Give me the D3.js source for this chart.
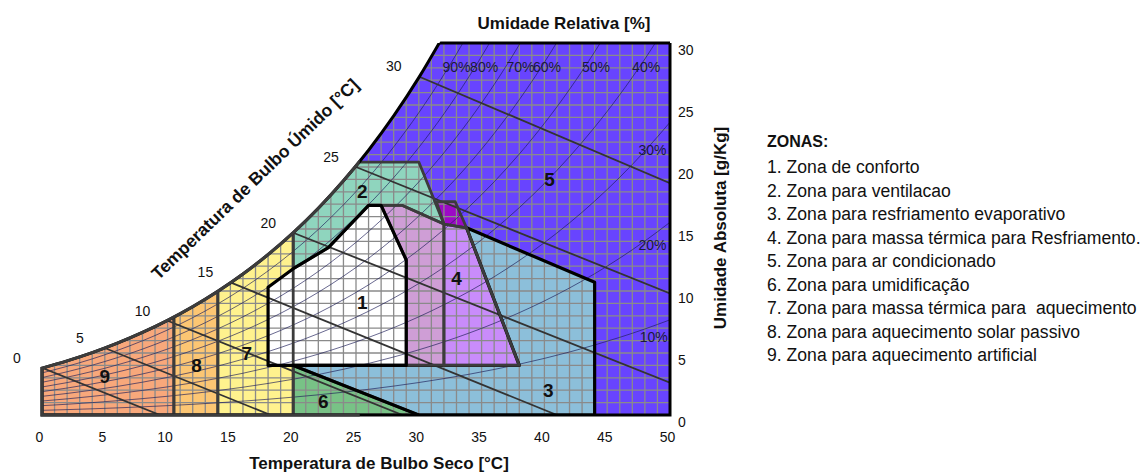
<!DOCTYPE html>
<html>
<head>
<meta charset="utf-8">
<script src="https://cdn.jsdelivr.net/npm/d3@7"></script>
<style>
  body { margin: 0; background: #fff; }
  svg text { font-family: "Liberation Sans", Arial, sans-serif; fill: #111; }
</style>
</head>
<body>
<div id="chart"></div>
<script>
// saturation vapour pressure table (kPa) -> 100% curve and RH curves
const satTemps = [0, 2, 4, 6, 8, 10, 12, 14, 16, 18, 20, 22, 24, 26, 28, 30, 32, 34, 36, 38, 40, 42, 44, 46, 48, 50];
const satPressure = [0.611, 0.706, 0.813, 0.935, 1.073, 1.228, 1.403, 1.599, 1.819, 2.065, 2.339, 2.645, 2.986,
                     3.363, 3.782, 4.246, 4.759, 5.324, 5.947, 6.632, 7.384, 8.209, 9.112, 10.099, 11.177, 12.352];
const rhLevels = [90, 80, 70, 60, 50, 40, 30, 20, 10];

// wet bulb lines [start on saturation, end]  (°C, g/kg)
const wetBulbTemps = [0, 5, 10, 15, 20, 25, 30];
const wetBulbLines = [
  [[0, 3.8], [9.4, 0]],
  [[5, 5.4], [18.2, 0]],
  [[10, 7.6], [28.7, 0]],
  [[15, 10.7], [41.0, 0]],
  [[20, 14.7], [50, 2.6]],
  [[25, 20.0], [50, 9.8]],
  [[30, 27.3], [50, 18.7]]
];

const xTicks = [0, 5, 10, 15, 20, 25, 30, 35, 40, 45, 50];
const yTicks = [0, 5, 10, 15, 20, 25, 30];

// zones (dry bulb °C, absolute humidity g/kg)
const zone1 = [[18, 4], [18, 10.3], [20, 11.8], [22.8, 13.5], [26, 16.9], [27, 16.9], [29, 12.5], [29, 4]];
const zone2 = [[20, 11.8], [20, 20.4], [30, 20.4], [32, 15.4], [28.7, 16.9], [26, 16.9], [22.8, 13.5]];
const zone3 = [[20, 4], [38, 4], [33.8, 15.1], [44, 10.7], [44, 0], [30, 0]];
const zone4a = [[27, 16.9], [28.7, 16.9], [32, 15.4], [32, 4], [29, 4], [29, 12.5]];
const zone4b = [[32, 15.4], [33.8, 15.1], [38, 4], [32, 4]];
const zone4c = [[31.4, 17.2], [32.9, 17.2], [33.8, 15.1], [32, 15.4]];
const zone6 = [[20, 4], [30, 0], [20, 0]];
const zone7 = [[14, 0], [14, 30], [20, 30], [20, 0]];
const zone8 = [[10.5, 0], [10.5, 30], [14, 30], [14, 0]];
const zone9 = [[0, 0], [0, 30], [10.5, 30], [10.5, 0]];

const zoneNumbers = ["1", "2", "3", "4", "5", "6", "7", "8", "9"];
const legendTitle = "ZONAS:";
const legendItems = [
  "1. Zona de conforto",
  "2. Zona para ventilacao",
  "3. Zona para resfriamento evaporativo",
  "4. Zona para massa térmica para Resfriamento.",
  "5. Zona para ar condicionado",
  "6. Zona para umidificação",
  "7. Zona para massa térmica para  aquecimento",
  "8. Zona para aquecimento solar passivo",
  "9. Zona para aquecimento artificial"
];

// layout only
const zoneLabelPos = [[25.5, 9.1], [25.5, 18.0], [40.3, 2.0], [33.0, 11.0], [40.4, 19.0], [22.4, 1.05], [16.3, 5.0], [12.3, 4.0], [5.0, 3.1]];
const rhLabelPos = [[33.0, 28.1], [35.2, 28.1], [38.1, 28.1], [40.2, 28.1], [44.1, 28.1], [48.1, 28.1], [48.6, 21.4], [48.6, 13.7], [48.7, 6.3]];

const width = 1145, height = 472;
const x = d3.scaleLinear().domain([0, 50]).range([42, 670]);
const y = d3.scaleLinear().domain([0, 30]).range([415, 43]);

const P = 101.325;
const hum = (ps, rh) => 622 * rh * ps / (P - rh * ps);

const svg = d3.select("#chart").append("svg")
  .attr("width", width).attr("height", height)
  .style("background", "#fff");

const line = d3.line().x(d => x(d[0])).y(d => y(d[1]));
const curve = d3.line().x(d => x(d[0])).y(d => y(d[1])).curve(d3.curveMonotoneX);
const poly = pts => line(pts) + "Z";

const satPts = satTemps.map((t, i) => [t, hum(satPressure[i], 1)]).filter(d => d[0] <= 32);
const topW = satPts[satPts.length - 1][1];
const satPath = curve(satPts);
const regionPath = satPath + `L${x(50)},${y(topW)}L${x(50)},${y(0)}L${x(0)},${y(0)}Z`;

const defs = svg.append("defs");
defs.append("clipPath").attr("id", "plot-clip").append("rect")
  .attr("x", x(0) - 4).attr("y", y(30))
  .attr("width", x(50) - x(0) + 8).attr("height", y(0) - y(30) + 4);
defs.append("clipPath").attr("id", "region-clip").append("path").attr("d", regionPath);
defs.append("clipPath").attr("id", "low-clip").append("rect")
  .attr("x", x(0) - 4).attr("y", 0).attr("width", x(25.3) - x(0) + 4).attr("height", height);

const plot = svg.append("g").attr("clip-path", "url(#plot-clip)")
  .append("g").attr("clip-path", "url(#region-clip)");

// fills
plot.append("rect").attr("x", x(0)).attr("y", y(30))
  .attr("width", x(50) - x(0)).attr("height", y(0) - y(30)).attr("fill", "#6844ff");

const fills = [
  [zone9, "#f8a87b"], [zone8, "#fcc673"], [zone7, "#fff28e"], [zone6, "#78c286"],
  [zone3, "#8cbfda"], [zone4a, "#cf9ed6"], [zone4b, "#c98cfb"], [zone4c, "#9c0ac6"],
  [zone2, "#8fd5be"], [zone1, "#ffffff"]
];
plot.selectAll("path.fill").data(fills).join("path")
  .attr("class", "fill")
  .attr("d", d => poly(d[0]))
  .attr("fill", d => d[1]);

// grid 1°C x 1 g/kg
const grid = plot.append("g").attr("stroke", "#8a8a8a").attr("stroke-width", 1.3);
grid.selectAll("line.v").data(d3.range(1, 50)).join("line").attr("class", "v")
  .attr("x1", d => x(d)).attr("x2", d => x(d)).attr("y1", y(0)).attr("y2", y(30));
grid.selectAll("line.h").data(d3.range(1, 30)).join("line").attr("class", "h")
  .attr("x1", x(0)).attr("x2", x(50)).attr("y1", d => y(d)).attr("y2", d => y(d));

// relative humidity curves
plot.append("g").selectAll("path").data(rhLevels).join("path")
  .attr("d", rh => curve(satTemps.map((t, i) => [t, hum(satPressure[i], rh / 100)])))
  .attr("fill", "none").attr("stroke", "#20205a").attr("stroke-opacity", 0.75).attr("stroke-width", 0.9);

// wet bulb lines
plot.append("g").selectAll("path").data(wetBulbLines).join("path")
  .attr("d", d => line(d))
  .attr("fill", "none").attr("stroke", "#333").attr("stroke-width", 1.8);

// zone outlines
const outlines = [
  [zone9, "#3c3c3c", 2.8], [zone8, "#3c3c3c", 2.8], [zone7, "#3c3c3c", 2.8], [zone6, "#3c3c3c", 2.8],
  [zone3, "#000", 3.2], [zone4a, "#3c3c3c", 2.8], [zone4b, "#3c3c3c", 2.8], [zone4c, "#3c3c3c", 2.8],
  [zone2, "#3c3c3c", 2.8], [zone1, "#000", 3.2]
];
plot.selectAll("path.outline").data(outlines).join("path")
  .attr("class", "outline")
  .attr("d", d => poly(d[0]))
  .attr("fill", "none").attr("stroke", d => d[1]).attr("stroke-width", d => d[2])
  .attr("stroke-linejoin", "round");

// chart border
svg.append("g").attr("clip-path", "url(#plot-clip)").append("path")
  .attr("d", regionPath).attr("fill", "none").attr("stroke", "#000").attr("stroke-width", 3);
svg.append("g").attr("clip-path", "url(#low-clip)").append("g").attr("clip-path", "url(#plot-clip)")
  .append("path").attr("d", regionPath).attr("fill", "none").attr("stroke", "#3c3c3c").attr("stroke-width", 3.1);
svg.append("g").attr("clip-path", "url(#region-clip)").append("line")
  .attr("x1", x(0)).attr("x2", x(50) + 2).attr("y1", y(30)).attr("y2", y(30))
  .attr("stroke", "#000").attr("stroke-width", 3);

// labels: RH
svg.append("g").selectAll("text").data(rhLevels).join("text")
  .attr("x", (d, i) => x(rhLabelPos[i][0])).attr("y", (d, i) => y(rhLabelPos[i][1]))
  .attr("text-anchor", "middle").attr("dominant-baseline", "central")
  .style("font-size", "14px").style("fill", "#1a1a3a")
  .text(d => d + "%");

// labels: wet bulb
svg.append("g").selectAll("text").data(wetBulbTemps).join("text")
  .attr("x", (d, i) => x(wetBulbLines[i][0][0]) - 25)
  .attr("y", (d, i) => y(wetBulbLines[i][0][1]) - 10)
  .attr("text-anchor", "middle").attr("dominant-baseline", "central")
  .style("font-size", "14px")
  .text(d => d);

// zone numbers
svg.append("g").selectAll("text").data(zoneNumbers).join("text")
  .attr("x", (d, i) => x(zoneLabelPos[i][0])).attr("y", (d, i) => y(zoneLabelPos[i][1]))
  .attr("text-anchor", "middle").attr("dominant-baseline", "central")
  .style("font-size", "19px").style("font-weight", "bold")
  .text(d => d);

// axes
const xAxis = svg.append("g").attr("transform", `translate(-3,${y(0) + 17})`)
  .call(d3.axisBottom(x).tickValues(xTicks).tickSize(0).tickPadding(0));
xAxis.select(".domain").remove();
xAxis.selectAll("text").style("font-size", "14px").style("font-family", "Liberation Sans, Arial, sans-serif").attr("fill", "#111");

const yAxis = svg.append("g").attr("transform", `translate(${x(50)},7)`)
  .call(d3.axisRight(y).tickValues(yTicks).tickSize(0).tickPadding(8));
yAxis.select(".domain").remove();
yAxis.selectAll("text").style("font-size", "14px").style("font-family", "Liberation Sans, Arial, sans-serif").attr("fill", "#111");

// titles
svg.append("text").attr("x", 564).attr("y", 23).attr("text-anchor", "middle").attr("dominant-baseline", "central")
  .style("font-size", "17px").style("font-weight", "bold").text("Umidade Relativa [%]");
svg.append("text").attr("x", 379).attr("y", 463).attr("text-anchor", "middle").attr("dominant-baseline", "central")
  .style("font-size", "17px").style("font-weight", "bold").text("Temperatura de Bulbo Seco [°C]");
svg.append("text").attr("transform", "translate(720,228) rotate(-90)")
  .attr("text-anchor", "middle").attr("dominant-baseline", "central")
  .style("font-size", "17px").style("font-weight", "bold").text("Umidade Absoluta [g/Kg]");
svg.append("text").attr("transform", "translate(255,179) rotate(-44)")
  .attr("text-anchor", "middle").attr("dominant-baseline", "central")
  .style("font-size", "17.5px").style("font-weight", "bold").text("Temperatura de Bulbo Úmido [°C]");

// legend
const legend = svg.append("g").attr("transform", "translate(767,0)");
legend.append("text").attr("y", 141).attr("dominant-baseline", "central")
  .style("font-size", "16px").style("font-weight", "bold").text(legendTitle);
legend.selectAll("text.item").data(legendItems).join("text").attr("class", "item")
  .attr("y", (d, i) => 167 + i * 23.5).attr("dominant-baseline", "central")
  .style("font-size", "17.6px").style("white-space", "pre")
  .text(d => d);
</script>
</body>
</html>
